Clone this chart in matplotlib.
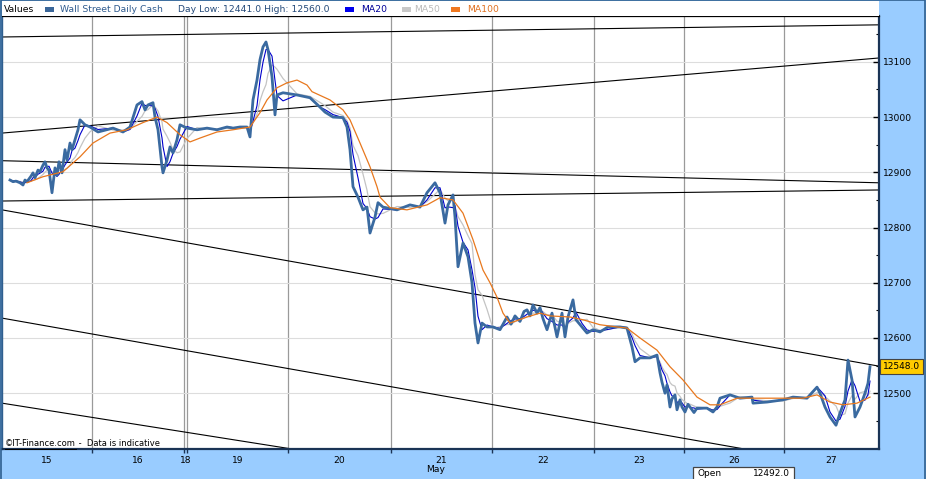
import numpy as np
import pandas as pd
import matplotlib
matplotlib.use('Agg')
import matplotlib.pyplot as plt
from matplotlib.patches import Rectangle
from matplotlib.lines import Line2D
from matplotlib.ticker import FixedLocator, MultipleLocator, NullFormatter, FixedFormatter

# ---------------- data ----------------
instrument = "Wall Street Daily Cash"
day_low = 12441.0
day_high = 12560.0
open_value = 12492.0
last_value = 12548.0

day_labels = ['15', '16', '18', '19', '20', '21', '22', '23', '26', '27']
day_starts = [0, 90, 182, 185, 286, 389, 490, 592, 682, 782]   # bar index where each session starts
bar_end = 877
month_label = 'May'
month_day = '21'

price_bar = [8, 11, 14, 18, 21, 23, 25, 29, 31, 33, 36, 38, 41, 43, 45, 47, 50, 53, 55, 57,
             60, 61, 63, 65, 68, 70, 73, 76, 78, 83, 88, 96, 111,
             121, 128, 135, 140, 143, 146, 151, 153, 156, 160, 161, 165, 168, 171, 175, 178, 185, 195, 205, 215,
             225, 231, 238, 245, 248, 251, 255, 258, 261, 264, 266, 270, 273, 275, 281, 295, 308, 318, 323, 331,
             341, 345, 348, 351, 356, 361, 365, 368, 373, 376, 381, 395, 408, 418, 425, 433, 438, 443, 446, 451,
             453, 456, 461, 466, 470, 473, 476, 480, 485, 491, 498, 505, 509, 513, 518, 522, 525, 528, 531, 535,
             538, 541, 545, 550, 555, 560,
             563, 566, 571, 574, 580, 585, 591, 598, 606, 618, 625, 630, 633, 638, 648, 655, 658, 660, 663, 665,
             668, 670, 673, 675, 678, 680, 683, 686, 688, 692, 695, 705, 711, 715, 718, 728, 738, 750, 751, 765,
             781, 791, 805, 815, 818, 823, 828,
             834, 838, 843, 846, 850, 853, 858, 863, 866, 868]
price_val = [12886, 12883, 12884, 12881, 12877, 12886, 12883, 12893, 12899, 12890, 12904, 12901, 12913, 12919, 12908, 12904, 12863, 12908, 12895, 12919,
             12899, 12913, 12941, 12922, 12953, 12941, 12959, 12977, 12995, 12986, 12982, 12973, 12980,
             12973, 12982, 13022, 13028, 13013, 13022, 13026, 13000, 12977, 12910, 12899, 12922, 12946, 12935, 12959, 12986, 12980, 12977, 12980, 12977,
             12982, 12980, 12982, 12982, 12964, 13031, 13067, 13104, 13127, 13136, 13122, 13073, 13004, 13040, 13044, 13040, 13035, 13018, 13009, 13000,
             12999, 12982, 12941, 12874, 12855, 12832, 12837, 12790, 12819, 12845, 12837, 12832, 12841, 12837, 12863, 12881, 12863, 12808, 12841, 12859,
             12819, 12729, 12772, 12747, 12700, 12627, 12591, 12627, 12620, 12620, 12615, 12638, 12625, 12640, 12630, 12648, 12651, 12640, 12660, 12645,
             12655, 12635, 12615, 12645, 12602, 12645,
             12602, 12638, 12669, 12633, 12620, 12609, 12615, 12611, 12620, 12620, 12618, 12584, 12557, 12564, 12564, 12569, 12537, 12520, 12500, 12515,
             12475, 12490, 12497, 12470, 12488, 12475, 12466, 12480, 12475, 12465, 12473, 12473, 12466, 12475, 12491, 12497, 12491, 12493, 12482, 12484,
             12488, 12493, 12491, 12511, 12500, 12475, 12457,
             12442, 12464, 12488, 12560, 12524, 12457, 12475, 12500, 12518, 12548]

ma100_bar = [25, 41, 61, 78, 91, 108, 125, 141, 155, 165, 178, 188, 198, 215, 231, 248, 258, 265, 275, 285,
             295, 305, 310, 328, 341, 348, 358, 368, 375, 378, 388, 405, 425, 438, 451, 461, 471, 481, 488, 495,
             501, 508, 525, 538, 548, 568, 581, 598, 615, 625, 638, 655, 668, 681, 695, 708, 718, 735, 748, 781,
             801, 815, 828, 841, 855, 868]
ma100_val = [12881, 12892, 12901, 12928, 12953, 12971, 12977, 12990, 13000, 12990, 12968, 12955, 12962, 12973, 12977, 12982, 13008, 13031, 13053, 13062,
             13067, 13058, 13046, 13031, 13013, 12995, 12953, 12910, 12874, 12855, 12836, 12832, 12841, 12854, 12850, 12826, 12778, 12723, 12700, 12674,
             12645, 12627, 12638, 12645, 12640, 12638, 12633, 12624, 12620, 12618, 12600, 12578, 12548, 12524, 12493, 12479, 12479, 12491, 12491, 12491,
             12491, 12497, 12484, 12479, 12482, 12493]

# trend lines: value at bar 0 and value at bar_end
trend_start = [13145, 12971, 12921, 12848, 12832, 12636, 12482]
trend_end = [13167, 13107, 12881, 12868, 12549, 12356, 12231]

y_min, y_max = 12399, 13183
y_ticks = [12500, 12600, 12700, 12800, 12900, 13000, 13100]

# ---------------- derived moving averages ----------------
idx = pd.Timestamp('2012-05-15') + pd.to_timedelta(price_bar, unit='min')
s = pd.Series(price_val, index=idx, dtype=float)
ma20 = s.rolling('9min').mean().values
ma50 = s.rolling('20min').mean().values

# ---------------- figure ----------------
W, H = 926, 479
BG = '#99CCFF'
fig = plt.figure(figsize=(W / 100, H / 100), dpi=100, facecolor=BG)
plt.rcParams['font.family'] = ['DejaVu Sans']

def fx(px):
    return px / W

def fy(py):
    return 1 - py / H

ax = fig.add_axes([fx(2), fy(449), fx(879) - fx(2), fy(16) - fy(449)])
ax.set_facecolor('white')
ax.set_xlim(0, bar_end)
ax.set_ylim(y_min, y_max)
ax.set_axisbelow(True)

# legend strip (white band above plot)
fig.patches.append(Rectangle((fx(2), fy(16)), fx(877), 15 / H, transform=fig.transFigure,
                             facecolor='white', edgecolor='none', zorder=0))

# grid + ticks
bounds = day_starts[1:]
centers = [(a + b) / 2 for a, b in zip(day_starts, day_starts[1:] + [bar_end])]
ax.xaxis.set_major_locator(FixedLocator(bounds))
ax.xaxis.set_major_formatter(NullFormatter())
ax.xaxis.set_minor_locator(FixedLocator(centers))
ax.xaxis.set_minor_formatter(FixedFormatter(day_labels))
ax.tick_params(axis='x', which='major', direction='out', length=3, width=1, color='#1A3355')
ax.tick_params(axis='x', which='minor', length=0, pad=5.0, labelsize=6.6, labelcolor='black')
ax.xaxis.grid(True, which='major', color='#9A9A9A', lw=0.9)

ax.yaxis.tick_right()
ax.yaxis.set_major_locator(FixedLocator(y_ticks))
ax.yaxis.set_minor_locator(MultipleLocator(50))
ax.tick_params(axis='y', which='major', direction='in', length=4, width=1, color='black',
               labelsize=6.6, pad=3)
ax.tick_params(axis='y', which='minor', direction='in', length=2.5, width=0.8, color='black')
ax.yaxis.grid(True, which='major', color='#DDDDDD', lw=0.8)

for side, col, lw in [('top', 'black', 0.9), ('bottom', '#1A3355', 1.6), ('right', '#1A3355', 1.6), ('left', '#2F5F8F', 1.0)]:
    ax.spines[side].set_color(col)
    ax.spines[side].set_linewidth(lw)

# trend lines
for a, b in zip(trend_start, trend_end):
    ax.plot([0, bar_end], [a, b], color='black', lw=0.8, zorder=2)

# moving averages (thin) and price
ax.plot(price_bar, ma50, color='#C4C4C4', lw=0.9, zorder=3)
ax.plot(price_bar, ma20, color='#0000CC', lw=0.8, zorder=3)
ax.plot(price_bar, price_val, color='#3A6AA0', lw=2.0, zorder=4, solid_joinstyle='round')
ax.plot(ma100_bar, ma100_val, color='#E8781E', lw=0.9, zorder=5)

# last price label
ax.annotate(f'{last_value:.1f}', xy=(1.0, last_value), xycoords=('axes fraction', 'data'),
            xytext=(4, 0), textcoords='offset pixels', ha='left', va='center', fontsize=6.5,
            annotation_clip=False,
            bbox=dict(boxstyle='square,pad=0.35', facecolor='#FFCC00', edgecolor='#444444', lw=0.8))

# month label
ci = day_labels.index(month_day)
ax.annotate(month_label, xy=(centers[ci], 0), xycoords=('data', 'axes fraction'),
            xytext=(-6, -21), textcoords='offset pixels', ha='center', va='center',
            fontsize=6.6, annotation_clip=False)

# copyright
t1 = ax.annotate('\u00a9IT-Finance.com', xy=(0, 0), xycoords='axes fraction', xytext=(3, 6),
                 textcoords='offset pixels', ha='left', va='center', fontsize=6.0)
fig.canvas.draw()
bb = t1.get_window_extent()
inv = fig.transFigure.inverted()
(x0, y0), (x1, _) = inv.transform([(bb.x0, bb.y0 - 1), (bb.x1, bb.y0)])
fig.lines.append(Line2D([x0, x1], [y0, y0], transform=fig.transFigure, color='black', lw=0.7))
ax.annotate(' -  Data is indicative', xy=(0, 0), xycoords='axes fraction',
            xytext=(bb.x1 - ax.bbox.x0, 6), textcoords='offset pixels', ha='left', va='center', fontsize=6.0)

# header legend
ly = fy(9.5)
fs = 6.7
fig.text(fx(4), ly, 'Values', fontsize=fs, color='black', va='center')
items = [
    (45, '#3A6699', 60, instrument, '#2F5B8F'),
    (345, '#0000EE', 361, 'MA20', '#000099'),
    (402, '#C8C8C8', 414, 'MA50', '#BBBBBB'),
    (451, '#F07820', 467, 'MA100', '#E07020'),
]
for mx, mcol, tx, txt, tcol in items:
    fig.patches.append(Rectangle((fx(mx), fy(11.5)), 9 / W, 4 / H, transform=fig.transFigure,
                                 facecolor=mcol, edgecolor='none'))
    fig.text(fx(tx), ly, txt, fontsize=fs, color=tcol, va='center')
fig.text(fx(178), ly, f'Day Low: {day_low:.1f} High: {day_high:.1f}', fontsize=fs, color='#244A7A', va='center')

# open box
fig.patches.append(Rectangle((fx(693), fy(482)), 101 / W, 15 / H, transform=fig.transFigure,
                             facecolor='white', edgecolor='#444444', lw=0.9))
fig.text(fx(697), fy(473), 'Open', fontsize=6.5, color='black', va='center', ha='left')
fig.text(fx(790), fy(473), f'{open_value:.1f}', fontsize=6.5, color='black', va='center', ha='right')

# figure border
fig.lines.append(Line2D([0.0008, 0.0008, 0.9985, 0.9985], [0, 0.999, 0.999, 0], transform=fig.transFigure,
                        color='#2F5F8F', lw=1.2))

fig.savefig('out.png', dpi=100, facecolor=BG)
